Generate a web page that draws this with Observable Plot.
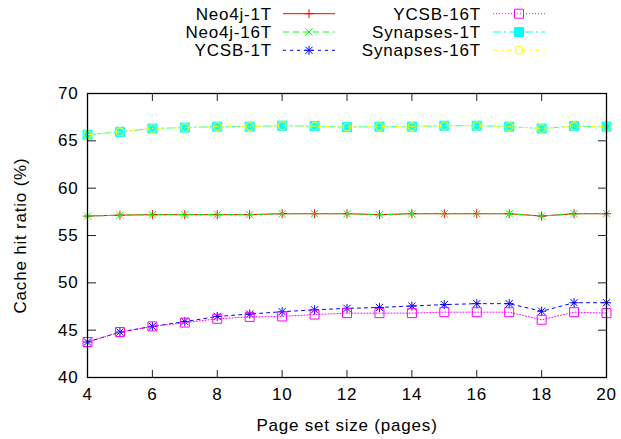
<!DOCTYPE html>
<html><head><meta charset="utf-8">
<script src="https://cdn.jsdelivr.net/npm/d3@7"></script>
<script src="https://cdn.jsdelivr.net/npm/@observablehq/plot@0.6"></script>
<style>
html,body{margin:0;padding:0;background:#fff;}
#wrap{position:relative;width:621px;height:439px;}
#legend{position:absolute;left:0;top:0;}
</style></head><body><div id="wrap"></div>
<script>
const pages = [4,5,6,7,8,9,10,11,12,13,14,15,16,17,18,19,20];
const neo4j1T     = [57.05,57.15,57.2,57.2,57.2,57.2,57.3,57.3,57.3,57.2,57.3,57.3,57.3,57.3,57.05,57.3,57.3];
const neo4j16T    = [57.05,57.15,57.2,57.2,57.2,57.2,57.3,57.3,57.3,57.2,57.3,57.3,57.3,57.3,57.05,57.3,57.3];
const ycsb1T      = [43.75,44.8,45.4,45.9,46.45,46.7,46.95,47.15,47.3,47.4,47.55,47.7,47.8,47.8,47.0,47.9,47.9];
const ycsb16T     = [43.75,44.8,45.4,45.8,46.2,46.4,46.45,46.65,46.8,46.8,46.8,46.9,46.9,46.9,46.1,46.9,46.8];
const synapses1T  = [65.65,65.95,66.3,66.4,66.5,66.5,66.6,66.55,66.45,66.5,66.5,66.6,66.6,66.5,66.3,66.55,66.5];
const synapses16T = [65.65,65.95,66.3,66.4,66.5,66.5,66.6,66.55,66.45,66.5,66.5,66.6,66.6,66.5,66.3,66.55,66.5];

const seriesNames  = ["Neo4j-1T","Neo4j-16T","YCSB-1T","YCSB-16T","Synapses-1T","Synapses-16T"];
const seriesValues = [neo4j1T, neo4j16T, ycsb1T, ycsb16T, synapses1T, synapses16T];
const seriesColors = ["#ff0000","#00ff00","#0000ff","#ff00ff","#00ffff","#ffff00"];
const seriesDash   = [null,"6,4","3,4","1,2","8,3,2,3","5,4,1,4"];
const xTicks = [4,6,8,10,12,14,16,18,20];
const yTicks = [40,45,50,55,60,65,70];

// custom gnuplot-like point symbols (size = r*r*PI)
const half = s => Math.sqrt(s / Math.PI);
const symPlus = {draw(c, s){const h = half(s); c.moveTo(-h,0); c.lineTo(h,0); c.moveTo(0,-h); c.lineTo(0,h);}};
const symTimes = {draw(c, s){const h = half(s)*0.8; c.moveTo(-h,-h); c.lineTo(h,h); c.moveTo(-h,h); c.lineTo(h,-h);}};
const symStar = {draw(c, s){symPlus.draw(c, s); symTimes.draw(c, s);}};
const symSquare = {draw(c, s){const h = half(s); c.moveTo(-h,-h); c.lineTo(h,-h); c.lineTo(h,h); c.lineTo(-h,h); c.closePath();}};
const symCircle = {draw(c, s){const h = half(s); c.moveTo(h,0); c.arc(0,0,h,0,2*Math.PI); c.closePath();}};
const seriesSymbols = [symPlus, symTimes, symStar, symSquare, symSquare, symCircle];
const seriesFilled  = [false,false,false,false,true,false];
const seriesR       = [4.5,4.5,4.5,4.5,4.5,4];

const font = "'Liberation Sans', Arial, Helvetica, sans-serif";
const noLabel = () => "";

const marks = [];
seriesNames.forEach((name, i) => {
  const rows = pages.map((p, j) => ({x: p, y: seriesValues[i][j], series: name}));
  marks.push(Plot.line(rows, {x: "x", y: "y", stroke: seriesColors[i], strokeWidth: 1, strokeDasharray: seriesDash[i]}));
  marks.push(Plot.dot(rows, {x: "x", y: "y", symbol: () => seriesSymbols[i], r: seriesR[i],
    stroke: seriesColors[i], fill: seriesFilled[i] ? seriesColors[i] : "none", strokeWidth: 1}));
});

const plot = Plot.plot({
  width: 621, height: 439,
  marginLeft: 87, marginRight: 15, marginTop: 93, marginBottom: 62,
  style: {fontFamily: font, fontSize: "17px", letterSpacing: "0.8px", color: "#000", background: "#fff"},
  x: {domain: [4, 20]},
  y: {domain: [40, 70]},
  symbol: {type: "identity"},
  marks: [
    ...marks,
    Plot.axisY(yTicks, {anchor: "left", tickSize: 0, tickPadding: 9, label: "Cache hit ratio (%)", labelAnchor: "center", labelOffset: 74, labelArrow: "none"}),
    Plot.axisY(yTicks, {anchor: "right", frameAnchor: "left", tickSize: 8, tickFormat: noLabel, label: null, stroke: "#222"}),
    Plot.axisY(yTicks, {anchor: "left", frameAnchor: "right", tickSize: 8, tickFormat: noLabel, label: null, stroke: "#222"}),
    Plot.axisX(xTicks, {anchor: "bottom", tickSize: 0, tickPadding: 10, label: "Page set size (pages)", labelAnchor: "center", labelOffset: 53, labelArrow: "none"}),
    Plot.axisX(xTicks, {anchor: "top", frameAnchor: "bottom", tickSize: 8, tickFormat: noLabel, label: null, stroke: "#222"}),
    Plot.axisX(xTicks, {anchor: "bottom", frameAnchor: "top", tickSize: 8, tickFormat: noLabel, label: null, stroke: "#222"}),
    Plot.frame({stroke: "#000", strokeWidth: 1.3})
  ]
});

const wrap = document.getElementById("wrap");
wrap.appendChild(plot);

// gnuplot-style key in the top area
const leg = d3.select(wrap).append("svg").attr("id", "legend").attr("width", 621).attr("height", 62)
  .style("font-family", font).style("font-size", "17px").style("letter-spacing", "0.8px");
const colTextX = [272, 481], colLineX = [283, 493], lineLen = 52;
seriesNames.forEach((name, i) => {
  const col = Math.floor(i / 3), row = i % 3;
  const ly = 13.7 + row * 18.3;
  const g = leg.append("g");
  g.append("text").attr("x", colTextX[col]).attr("y", ly + 6).attr("text-anchor", "end").attr("fill", "#000").text(name);
  g.append("line").attr("x1", colLineX[col]).attr("x2", colLineX[col] + lineLen).attr("y1", ly).attr("y2", ly)
    .attr("stroke", seriesColors[i]).attr("stroke-width", 1).attr("stroke-dasharray", seriesDash[i]);
  const r = seriesR[i];
  g.append("path").attr("transform", `translate(${colLineX[col] + lineLen / 2},${ly})`)
    .attr("d", d3.symbol(seriesSymbols[i], r * r * Math.PI)())
    .attr("stroke", seriesColors[i]).attr("fill", seriesFilled[i] ? seriesColors[i] : "none").attr("stroke-width", 1);
});
</script></body></html>
